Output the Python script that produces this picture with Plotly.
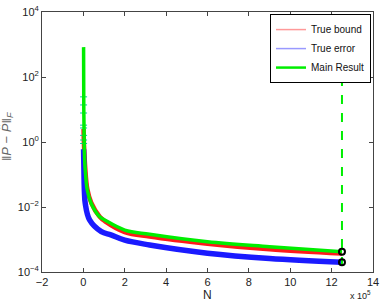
import plotly.graph_objects as go

# ---- data (N in samples) ----
N_green = [1000, 2000, 4000, 6000, 9000, 19000, 38000, 79000, 103000, 200000, 320000,
           600000, 900000, 1250000]
green_vals = [830, 10.0, 1.0, 0.3, 0.138, 0.033, 0.0129, 0.0050, 0.0040, 0.00195, 0.00145,
              0.00085, 0.0006, 0.00042]

N_red = [1000, 3000, 6000, 9000, 19000, 38000, 79000, 103000, 200000, 320000,
         600000, 900000, 1250000]
red_vals = [2.5, 0.8, 0.35, 0.16, 0.036, 0.0135, 0.0050, 0.0037, 0.0017, 0.00123,
            0.00074, 0.0005, 0.00037]

N_blue = [1000, 3000, 5000, 9000, 30000, 87000, 133000, 200000, 320000,
          600000, 900000, 1250000]
blue_vals = [0.6, 0.1, 0.03, 0.0129, 0.004, 0.00174, 0.00138, 0.00095, 0.00068,
             0.00038, 0.00026, 0.00020]

# error-bar caps visible near N = 0
cap_N = [1000, 1000, 1000, 1000, 1000, 1000, 1000, 1000]
cap_vals = [24.5, 13.8, 7.8, 3.3, 2.7, 1.6, 1.15, 0.9]

N_final = 1250000
vline_top = 100
vline_bottom = 1e-4

xtick_vals = [-200000, 0, 200000, 400000, 600000, 800000, 1000000, 1200000, 1400000]
xtick_text = ["\u22122", "0", "2", "4", "6", "8", "10", "12", "14"]
ytick_vals = [1e-4, 1e-2, 1e0, 1e2, 1e4]
ytick_text = ["10<sup>\u22124</sup>", "10<sup>\u22122</sup>", "10<sup>0</sup>",
              "10<sup>2</sup>", "10<sup>4</sup>"]

fig = go.Figure()

fig.add_trace(go.Scatter(x=N_red, y=red_vals, mode="lines", line_shape="spline",
                         line=dict(color="#ff1a1a", width=4.5), showlegend=False))
fig.add_trace(go.Scatter(x=N_blue, y=blue_vals, mode="lines", line_shape="spline",
                         line=dict(color="#1a1aff", width=5.5), showlegend=False))
fig.add_trace(go.Scatter(x=cap_N, y=cap_vals, mode="markers",
                         marker=dict(symbol="line-ew-open", size=5,
                                     line=dict(color="rgba(240,140,140,0.6)", width=1)),
                         showlegend=False))
fig.add_trace(go.Scatter(x=N_green, y=green_vals, mode="lines", line_shape="spline",
                         line=dict(color="#00ee00", width=3.5), showlegend=False))
fig.add_trace(go.Scatter(x=[N_final, N_final], y=[vline_top, vline_bottom], mode="lines",
                         line=dict(color="#00ee00", width=2, dash="dash"), showlegend=False))
fig.add_trace(go.Scatter(x=[N_final, N_final], y=[green_vals[-1], blue_vals[-1]],
                         mode="markers",
                         marker=dict(symbol="circle-open", size=6, color="black",
                                     line=dict(color="black", width=2)),
                         showlegend=False))

fig.add_trace(go.Scatter(x=[None], y=[None], mode="lines", name="True bound",
                         line=dict(color="#ff9999", width=1.5)))
fig.add_trace(go.Scatter(x=[None], y=[None], mode="lines", name="True error",
                         line=dict(color="#9999ff", width=1.5)))
fig.add_trace(go.Scatter(x=[None], y=[None], mode="lines", name="Main Result",
                         line=dict(color="#00ee00", width=2.5)))

axis_common = dict(showline=True, linecolor="#444", linewidth=1, mirror="ticks",
                   ticks="inside", ticklen=4, tickcolor="#444", showgrid=False,
                   zeroline=False, automargin=False, tickfont=dict(size=11, color="#222"))

fig.update_layout(
    width=382, height=302,
    margin=dict(l=42, r=9, t=12, b=30),
    paper_bgcolor="white", plot_bgcolor="white",
    font=dict(family="Liberation Sans, Arial, sans-serif", size=11, color="#222"),
    xaxis=dict(range=[-200000, 1400000], tickvals=xtick_vals, ticktext=xtick_text,
               **axis_common),
    yaxis=dict(type="log", range=[-4, 4], tickvals=ytick_vals, ticktext=ytick_text,
               **axis_common),
    legend=dict(x=0.994, y=0.992, xanchor="right", yanchor="top",
                bgcolor="white", bordercolor="black", borderwidth=1,
                font=dict(size=10, color="#111"), itemwidth=30,
                tracegroupgap=0),
    annotations=[
        dict(text="x 10<sup>5</sup>", xref="paper", yref="paper",
             x=1.0, y=-0.09, xanchor="right", yanchor="middle",
             showarrow=False, font=dict(size=9, color="#222")),
        dict(text="N", xref="paper", yref="paper", x=0.5, y=-0.09,
             xanchor="center", yanchor="middle", showarrow=False,
             font=dict(size=12, color="#222")),
        dict(text="\u2016<i>P</i> \u2212 <i>P\u0302</i>\u2016<sub><i>F</i></sub>",
             xref="paper", yref="paper", x=-0.105, y=0.52, xanchor="center",
             yanchor="middle", textangle=-90, showarrow=False,
             font=dict(size=13, color="#666")),
    ],
)

fig.write_html("out.html", config={"displayModeBar": False},
               post_script="document.body.style.margin='0';document.body.style.padding='0';")
